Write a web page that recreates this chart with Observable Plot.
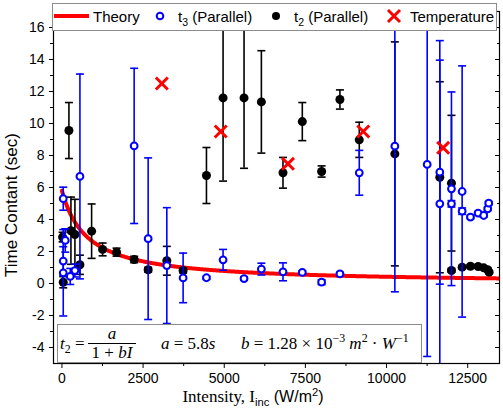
<!DOCTYPE html>
<html>
<head>
<meta charset="utf-8">
<script src="https://cdn.jsdelivr.net/npm/d3@7"></script>
<script src="https://cdn.jsdelivr.net/npm/@observablehq/plot@0.6"></script>
<style>
  body { margin: 0; background: #fff; }
  #wrap { position: relative; width: 503px; height: 411px; font-family: "Liberation Sans", Arial, sans-serif; color: #000; }
  #wrap svg.plot { position: absolute; left: 0; top: 0; }
  .legend { position: absolute; left: 52px; top: 3px; width: 445px; height: 28px; box-sizing: border-box;
            border: 1px solid #8c8c8c; background: #fff; font-size: 15px; }
  .legend .item { position: absolute; top: 4px; line-height: 18px; white-space: nowrap; }
  .legend svg { position: absolute; top: 0; }
  sub.s { font-size: 0.7em; vertical-align: -0.35em; line-height: 0; }
  sup.s { font-size: 0.7em; vertical-align: 0.55em; line-height: 0; }
  .ylabel { position: absolute; left: 12px; top: 205px; transform: translate(-50%, -50%) rotate(-90deg);
            font-size: 17px; white-space: nowrap; }
  .xlabel { position: absolute; left: 253px; top: 397px; transform: translate(-50%, -50%); white-space: nowrap; font-size: 16px; }
  .xlabel .serif { font-family: "Liberation Serif", "Times New Roman", serif; font-size: 17px; }
  .note { position: absolute; left: 57px; top: 324px; width: 365px; height: 39px; box-sizing: border-box;
          border: 1px solid #8c8c8c; background: #fff; font-family: "Liberation Serif", "Times New Roman", serif; font-size: 17px; }
  .note .g { position: absolute; top: 0; height: 37px; display: flex; align-items: center; white-space: nowrap; }
  .note i { font-style: italic; }
  .frac { display: inline-flex; flex-direction: column; align-items: center; margin-left: 5px; line-height: 16px; }
  .frac .num { border-bottom: 1px solid #000; padding: 0 2px 1px; width: 100%; text-align: center; }
  .frac .den { padding: 1px 2px 0; }
</style>
</head>
<body>
<div id="wrap"></div>
<script>
// Relaxation time t2 (filled) and t3 (open) versus incident intensity, with error bars
const t2Intensity = [20, 40, 215, 277, 400, 554, 914, 1252, 1683, 2225, 2656, 3231, 3733, 4452, 4964, 5610, 6144, 6810, 7405, 8000, 8564, 9160, 10256, 11641, 12000, 12000, 12329, 12585, 12821, 12994, 13117, 13160];
const t2Value     = [2.9, 0.08, 9.56, 3.3, 3.06, 1.17, 3.27, 2.13, 1.96, 1.5, 0.86, 1.42, 0.81, 6.75, 11.6, 11.6, 11.35, 6.92, 10.12, 7.0, 11.5, 8.98, 8.1, 6.64, 6.27, 0.81, 1.02, 1.08, 1.06, 0.98, 0.86, 0.71];
const t2Error     = [0.3, 0.35, 1.75, 2.1, 2.2, 0.6, 1.7, 0.4, 0.25, 0.2, 0.15, 0.9, 0.15, 1.75, 5.2, 4.4, 3.2, 0.96, 1.19, 0.35, 0.6, 1.1, 7.0, 5.97, 4.24, 0.1, 0.1, 0.1, 0.1, 0.1, 0.1, 0.1];

const t3Intensity = [40, 102, 40, 40, 256, 400, 554, 2225, 2656, 3231, 3733, 4452, 4964, 5610, 6144, 6810, 7405, 8000, 8564, 9160, 10256, 11252, 11641, 11641, 12000, 12000, 12329, 12329, 12585, 12821, 12994, 13117, 13148];
const t3Value     = [5.3, 2.69, 1.4, 0.67, 0.44, 0.81, 6.69, 8.6, 2.8, 1.12, 0.35, 0.36, 1.48, 0.31, 0.9, 0.73, 0.69, 0.08, 0.6, 6.92, 8.58, 7.44, 6.96, 4.98, 5.92, 4.98, 5.75, 4.52, 4.15, 4.4, 4.25, 4.67, 5.02];
const t3Error     = [0.72, 0.73, 0.9, 2.7, 0.5, 0.4, 6.4, 4.85, 5.05, 3.62, 1.55, 0.1, 0.65, 0.1, 0.37, 0.56, 0.1, 0.15, 0.1, 1.4, 9.1, 12, 7.0, 10.2, 6.05, 0.2, 7.85, 0.2, 0.1, 0.1, 0.1, 0.1, 0.1];

const tempIntensity = [3077, 4892, 6963, 9283, 11744];
const tempValue     = [12.5, 9.5, 7.48, 9.5, 8.48];

// Fit parameters of t2 = a / (1 + b I)
const a = 5.8;
const b = 1.28e-3;

const xTicks = [0, 2500, 5000, 7500, 10000, 12500];
const xMinor = [1250, 3750, 6250, 8750, 11250];
const yTicks = [-4, -2, 0, 2, 4, 6, 8, 10, 12, 14, 16];
const yMinor = [-3, -1, 1, 3, 5, 7, 9, 11, 13, 15];

const rows = (xs, vs, es) => xs.map((I, i) => ({I, v: vs[i], e: es ? es[i] : 0}));
const t2 = rows(t2Intensity, t2Value, t2Error);
const t3 = rows(t3Intensity, t3Value, t3Error);
const temp = rows(tempIntensity, tempValue);
const theory = d3.range(0, 13481, 20).map(I => ({I, v: a / (1 + b * I)}));

// horizontal cap for error bars
const cap = { draw(ctx, size) { const w = Math.sqrt(size / Math.PI); ctx.moveTo(-w, 0); ctx.lineTo(w, 0); } };

const errorBars = (data, color) => [
  Plot.ruleX(data, {x: "I", y1: d => d.v - d.e, y2: d => d.v + d.e, stroke: color, strokeWidth: 1.6, clip: true}),
  Plot.dot(data, {x: "I", y: d => d.v + d.e, symbol: cap, r: 4, fill: "none", stroke: color, strokeWidth: 1.6, clip: true}),
  Plot.dot(data, {x: "I", y: d => d.v - d.e, symbol: cap, r: 4, fill: "none", stroke: color, strokeWidth: 1.6, clip: true})
];

const chart = Plot.plot({
  width: 503,
  height: 411,
  marginLeft: 53,
  marginRight: 4,
  marginTop: 11,
  marginBottom: 48,
  style: {fontFamily: "'Liberation Sans', Arial, sans-serif", fontSize: "14px", background: "transparent", overflow: "visible"},
  x: {domain: [-260, 13480]},
  y: {domain: [-5, 17]},
  marks: [
    Plot.axisX({ticks: xTicks, tickSize: 5, tickPadding: 5, tickFormat: d => String(d), label: null, fontSize: 14}),
    Plot.axisX({ticks: xMinor, tickSize: 3, tickFormat: () => "", label: null}),
    Plot.axisY({ticks: yTicks, tickSize: 4, tickPadding: 5, tickFormat: d => String(d), label: null, fontSize: 14}),
    Plot.axisY({ticks: yMinor, tickSize: 3, tickFormat: () => "", label: null}),
    Plot.axisY({anchor: "right", ticks: yTicks, tickSize: 5, dx: -5, tickFormat: () => "", label: null}),
    Plot.axisY({anchor: "right", ticks: yMinor, tickSize: 3, dx: -3, tickFormat: () => "", label: null}),
    Plot.line(theory, {x: "I", y: "v", stroke: "#ff0000", strokeWidth: 4, clip: true}),
    ...errorBars(t2, "#000"),
    Plot.dot(t2, {x: "I", y: "v", r: 4.5, fill: "#000", stroke: "none", clip: true}),
    ...errorBars(t3, "#0000ff"),
    Plot.dot(t3, {x: "I", y: "v", r: 3.4, fill: "#fff", stroke: "#0000ff", strokeWidth: 2, clip: true}),
    Plot.dot(temp, {x: "I", y: "v", symbol: "times", r: 5.5, stroke: "#ff0000", strokeWidth: 3, clip: true}),
    Plot.frame({stroke: "#000", strokeWidth: 1.2})
  ]
});

const wrap = document.getElementById("wrap");
wrap.appendChild(chart);

wrap.insertAdjacentHTML("beforeend", `
  <div class="legend">
    <svg width="444" height="26" style="left:0">
      <line x1="1" x2="36" y1="12" y2="12" stroke="#ff0000" stroke-width="4"/>
      <circle cx="107" cy="12" r="3.3" fill="#fff" stroke="#0000ff" stroke-width="2"/>
      <circle cx="223" cy="12" r="4" fill="#000"/>
      <path d="M335,6 L347,18 M347,6 L335,18" stroke="#ff0000" stroke-width="3"/>
    </svg>
    <div class="item" style="left:40px">Theory</div>
    <div class="item" style="left:125px">t<sub class="s">3</sub> (Parallel)</div>
    <div class="item" style="left:241px">t<sub class="s">2</sub> (Parallel)</div>
    <div class="item" style="left:357px">Temperature</div>
  </div>
  <div class="ylabel">Time Contant (sec)</div>
  <div class="xlabel"><span class="serif">Intensity, I</span><sub class="s">inc</sub> (W/m<sup class="s">2</sup>)</div>
  <div class="note">
    <div class="g" style="left:2px"><span><i>t</i><sub class="s">2</sub>&nbsp;=</span>
      <span class="frac"><span class="num"><i>a</i></span><span class="den">1 + <i>bI</i></span></span></div>
    <div class="g" style="left:103px"><span><i>a</i>&nbsp;=&nbsp;5.8<i>s</i></span></div>
    <div class="g" style="left:183px"><span><i>b</i>&nbsp;=&nbsp;1.28&nbsp;×&nbsp;10<sup class="s">−3</sup>&nbsp;<i>m</i><sup class="s">2</sup>&nbsp;·&nbsp;<i>W</i><sup class="s">−1</sup></span></div>
  </div>
`);
</script>
</body>
</html>
